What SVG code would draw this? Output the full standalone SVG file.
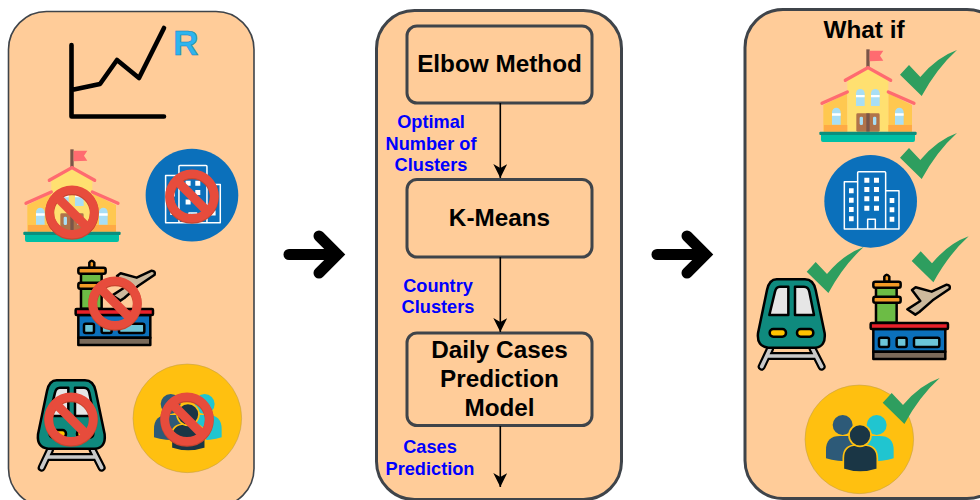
<svg xmlns="http://www.w3.org/2000/svg" xmlns:xlink="http://www.w3.org/1999/xlink" width="980" height="500" viewBox="0 0 980 500">
<style>
.panel{fill:#ffcc99;stroke:#3f444a;stroke-width:3}
.box{fill:#ffcc99;stroke:#3f444a;stroke-width:3}
.title{font:bold 24.3px "Liberation Sans",Arial,sans-serif;fill:#000;text-anchor:middle}
.lbl{font:bold 18.2px "Liberation Sans",Arial,sans-serif;fill:#0000ff;text-anchor:middle}
.edge{fill:none;stroke:#000;stroke-width:1.6}
.big{fill:none;stroke:#000;stroke-width:11;stroke-linecap:round;stroke-linejoin:miter}
.k{stroke:#000;stroke-width:7.5;stroke-linejoin:round}
</style>
<defs>
<marker id="ah" markerUnits="userSpaceOnUse" markerWidth="15" markerHeight="14" refX="14" refY="7" orient="auto" viewBox="0 0 15 14"><path d="M0,0 L4,7 L0,14 L14,7Z" fill="#000"/></marker>
<path id="win" d="M0,52 V14 a13,13 0 0 1 26,0 V52Z" fill="#a8def5"/>
<g id="school">
<rect x="379" y="148" width="10" height="55" fill="#7a5548"/>
<path d="M389,152 H430 L420,167 L430,182 L389,184Z" fill="#ff6b70"/>
<path d="M250,315 L322,280 V395 H250Z M445,280 L516,315 V395 H445Z" fill="#ffc850"/>
<path d="M322,240 L384,208 L445,240 V395 H322Z" fill="#ffe070"/>
<rect x="252" y="375" width="70" height="20" fill="#ffaa45"/><rect x="445" y="375" width="71" height="20" fill="#ffaa45"/>
<path d="M316,241 L384,203 L452,241 M246,310 L322,276 M445,276 L522,310" fill="none" stroke="#ff6b70" stroke-width="10" stroke-linecap="round"/>
<use xlink:href="#win" x="348" y="266"/><use xlink:href="#win" x="393" y="266"/><use xlink:href="#win" x="276" y="322"/><use xlink:href="#win" x="465" y="322"/>
<path d="M348,285h26v7h-26z M393,285h26v7h-26z M276,340h26v7h-26z M465,340h26v7h-26z" fill="#fff"/>
<rect x="349" y="340" width="70" height="55" rx="4" fill="#b0734a"/>
<rect x="379" y="340" width="10" height="55" fill="#7a5548"/>
<rect x="359" y="350" width="10" height="25" rx="4" fill="#a8def5"/><rect x="399" y="350" width="10" height="25" rx="4" fill="#a8def5"/>
<rect x="243" y="398" width="282" height="28" rx="6" fill="#00bfa5"/>
<rect x="238" y="395" width="292" height="10" rx="3" fill="#0a8f7e"/>
</g>
<g id="building">
<circle cx="392" cy="604" r="139" fill="#0b70bb"/>
<g fill="none" stroke="#fff" stroke-width="4.5" stroke-linejoin="round">
<path d="M353,545 H313 V687 H477 V572 H437"/>
<path d="M353,687 V518 Q353,515 356,515 H434 Q437,515 437,518 V687"/>
<path d="M383,687 V658 H406 V687"/>
</g>
<path fill="#fff" d="M373,533h15v15h-15z M402,533h15v15h-15z M373,561h15v15h-15z M402,561h15v15h-15z M373,589h15v15h-15z M402,589h15v15h-15z M373,617h15v15h-15z M402,617h15v15h-15z M327,565h14v15h-14z M327,593h14v15h-14z M327,621h14v15h-14z M327,649h14v15h-14z M449,594h14v15h-14z M449,622h14v15h-14z M449,650h14v15h-14z"/>
</g>
<g id="airport">
<path class="k" d="M433,95 V80 Q440,68 448,80 V95Z" fill="#f29a26"/>
<rect class="k" x="408" y="110" width="62" height="108" fill="#6cbc45"/>
<rect class="k" x="400" y="95" width="82" height="18" rx="6" fill="#f29a26"/>
<rect class="k" x="400" y="140" width="82" height="18" rx="6" fill="#f29a26"/>
<path class="k" d="M516,120 L527,112 L575,125 L620,104 Q632,104 629,116 L578,151 L538,186 L526,194 L502,178 L541,153Z" fill="#cdb99c"/>
<rect class="k" x="400" y="237" width="216" height="68" fill="#0b70bb"/>
<rect class="k" x="392" y="219" width="232" height="18" rx="3" fill="#e8202a"/>
<rect class="k" x="417" y="263" width="30" height="28" rx="5" fill="#6cc5d8"/>
<rect class="k" x="470" y="263" width="30" height="28" rx="5" fill="#6cc5d8"/>
<rect class="k" x="522" y="263" width="76" height="28" rx="5" fill="#6cc5d8"/>
<rect class="k" x="400" y="305" width="216" height="22" fill="#7a6a5a"/>
</g>
<g id="train">
<path d="M90,297 L65,350 M218,297 L245,350 M82,318 H228" fill="none" stroke="#000" stroke-width="24" stroke-linecap="round"/>
<path d="M90,297 L65,350 M218,297 L245,350 M82,318 H228" fill="none" stroke="#c9c9c9" stroke-width="11" stroke-linecap="round"/>
<path class="k" d="M110,88 H195 Q220,88 227,120 L254,250 Q258,290 225,293 H85 Q50,290 54,250 L81,120 Q88,88 110,88Z" fill="#0f8a7e"/>
<path class="k" d="M120,110 H145 V195 H88 L105,125 Q108,110 120,110Z M165,110 H192 Q205,110 208,125 L222,195 H165Z" fill="#e6e6e6"/>
<rect class="k" x="89" y="237" width="49" height="23" rx="11" fill="#ffc400"/>
<rect class="k" x="171" y="237" width="49" height="23" rx="11" fill="#ffc400"/>
</g>
<g id="people">
<circle cx="358" cy="568" r="163" fill="#ffc010" stroke="#b89a50" stroke-width="1.5"/>
<circle cx="308" cy="525" r="30" fill="#2d5a78"/><circle cx="410" cy="525" r="30" fill="#20c5d0"/>
<path d="M258,625 V600 Q258,558 300,558 H340 V635 Q290,635 258,625Z" fill="#2d5a78"/>
<path d="M461,625 V600 Q461,558 419,558 H380 V635 Q430,635 461,625Z" fill="#20c5d0"/>
<path d="M310,658 V625 Q310,585 350,585 H370 Q412,585 412,625 V658 Q360,675 310,658Z" fill="#1a3645" stroke="#ffc010" stroke-width="5"/>
<circle cx="360" cy="556" r="33" fill="#1a3645" stroke="#ffc010" stroke-width="5"/>
</g>
<g id="no">
<circle r="22.3" cy="1" fill="none" stroke="#c8452f" stroke-width="9"/>
<circle r="22.3" fill="none" stroke="#e74c3c" stroke-width="8.5"/>
<path d="M-16,-16 L16,16" stroke="#e74c3c" stroke-width="9"/>
</g>
<path id="check" d="M900,74.7 L909,65 L920.3,77 Q937,57 957,50 Q937,68 921.7,96Z" fill="#2e9e5f"/>
</defs>

<g id="panel-left">
<rect class="panel" style="stroke-width:1.6" x="8.5" y="11.5" width="245.5" height="495" rx="38"/>
<path d="M71.5,45 V116.5 H164 M71.5,90 L100,84 L117,60 L139,78 L164,28" fill="none" stroke="#000" stroke-width="4.6" stroke-linecap="round" stroke-linejoin="round"/>
<text x="186" y="55" text-anchor="middle" style="font:bold 35px 'Liberation Sans',Arial,sans-serif" fill="#2db5ee" stroke="#1a7fb5" stroke-width=".6">R</text>
</g>
<g id="node-left-school"><use xlink:href="#school" transform="translate(-56,100) scale(.3333)"/><use xlink:href="#no" x="72" y="212"/></g>
<g id="node-left-building"><use xlink:href="#building" transform="translate(61.3,-6.2) scale(.3333)"/><use xlink:href="#no" x="192" y="196"/></g>
<g id="node-left-airport"><use xlink:href="#airport" transform="translate(-55,236) scale(.3333)"/><use xlink:href="#no" x="115" y="303"/></g>
<g id="node-left-train"><use xlink:href="#train" transform="translate(20,351) scale(.3333)"/><use xlink:href="#no" x="71" y="419"/></g>
<g id="node-left-people"><use xlink:href="#people" transform="translate(68,229) scale(.3333)"/><use xlink:href="#no" x="187" y="419"/></g>

<g id="panel-middle"><rect class="panel" x="376.5" y="10.5" width="245" height="489" rx="38"/></g>
<g id="node-elbow"><rect class="box" x="407" y="26" width="185" height="77" rx="10"/><text class="title" x="499.5" y="72">Elbow Method</text></g>
<g id="node-kmeans"><rect class="box" x="407" y="179.5" width="185" height="77.5" rx="10"/><text class="title" x="499.5" y="226">K-Means</text></g>
<g id="node-model"><rect class="box" x="407" y="333" width="185" height="92.5" rx="10"/><text class="title" x="499.5" y="358">Daily Cases</text><text class="title" x="499.5" y="387">Prediction</text><text class="title" x="499.5" y="416">Model</text></g>

<g id="connectors">
<path class="edge" d="M500.3,103 V178" marker-end="url(#ah)"/>
<path class="edge" d="M500.3,257 V332" marker-end="url(#ah)"/>
<path class="edge" d="M500.3,426 V487" marker-end="url(#ah)"/>
<path class="big" d="M289,254.5 H335"/>
<path class="big" d="M657,254.5 H703"/>
<path class="big" d="M319,236 L337.5,254.5 L319,273"/>
<path class="big" d="M687,236 L705.5,254.5 L687,273"/>
</g>
<g id="edge-labels">
<text class="lbl" x="431" y="128">Optimal</text><text class="lbl" x="431" y="149.5">Number of</text><text class="lbl" x="431" y="171">Clusters</text>
<text class="lbl" x="438" y="292">Country</text><text class="lbl" x="438" y="313">Clusters</text>
<text class="lbl" x="430" y="453">Cases</text><text class="lbl" x="430" y="474.5">Prediction</text>
</g>

<g id="panel-right"><rect class="panel" x="745" y="9.5" width="260" height="489" rx="38"/><text class="title" x="864" y="38">What if</text></g>
<g id="node-right-school"><use xlink:href="#school" transform="translate(740,0) scale(.3333)"/><use xlink:href="#check"/></g>
<g id="node-right-building"><use xlink:href="#building" transform="translate(740,0) scale(.3333)"/><use xlink:href="#check" y="83"/></g>
<g id="node-right-train"><use xlink:href="#train" transform="translate(740,250) scale(.3333)"/><use xlink:href="#check" x="-93.3" y="197"/></g>
<g id="node-right-airport"><use xlink:href="#airport" transform="translate(740,250) scale(.3333)"/><use xlink:href="#check" x="11.7" y="186.3"/></g>
<g id="node-right-people"><use xlink:href="#people" transform="translate(740,250) scale(.3333)"/><use xlink:href="#check" x="-17.3" y="328"/></g>
</svg>
